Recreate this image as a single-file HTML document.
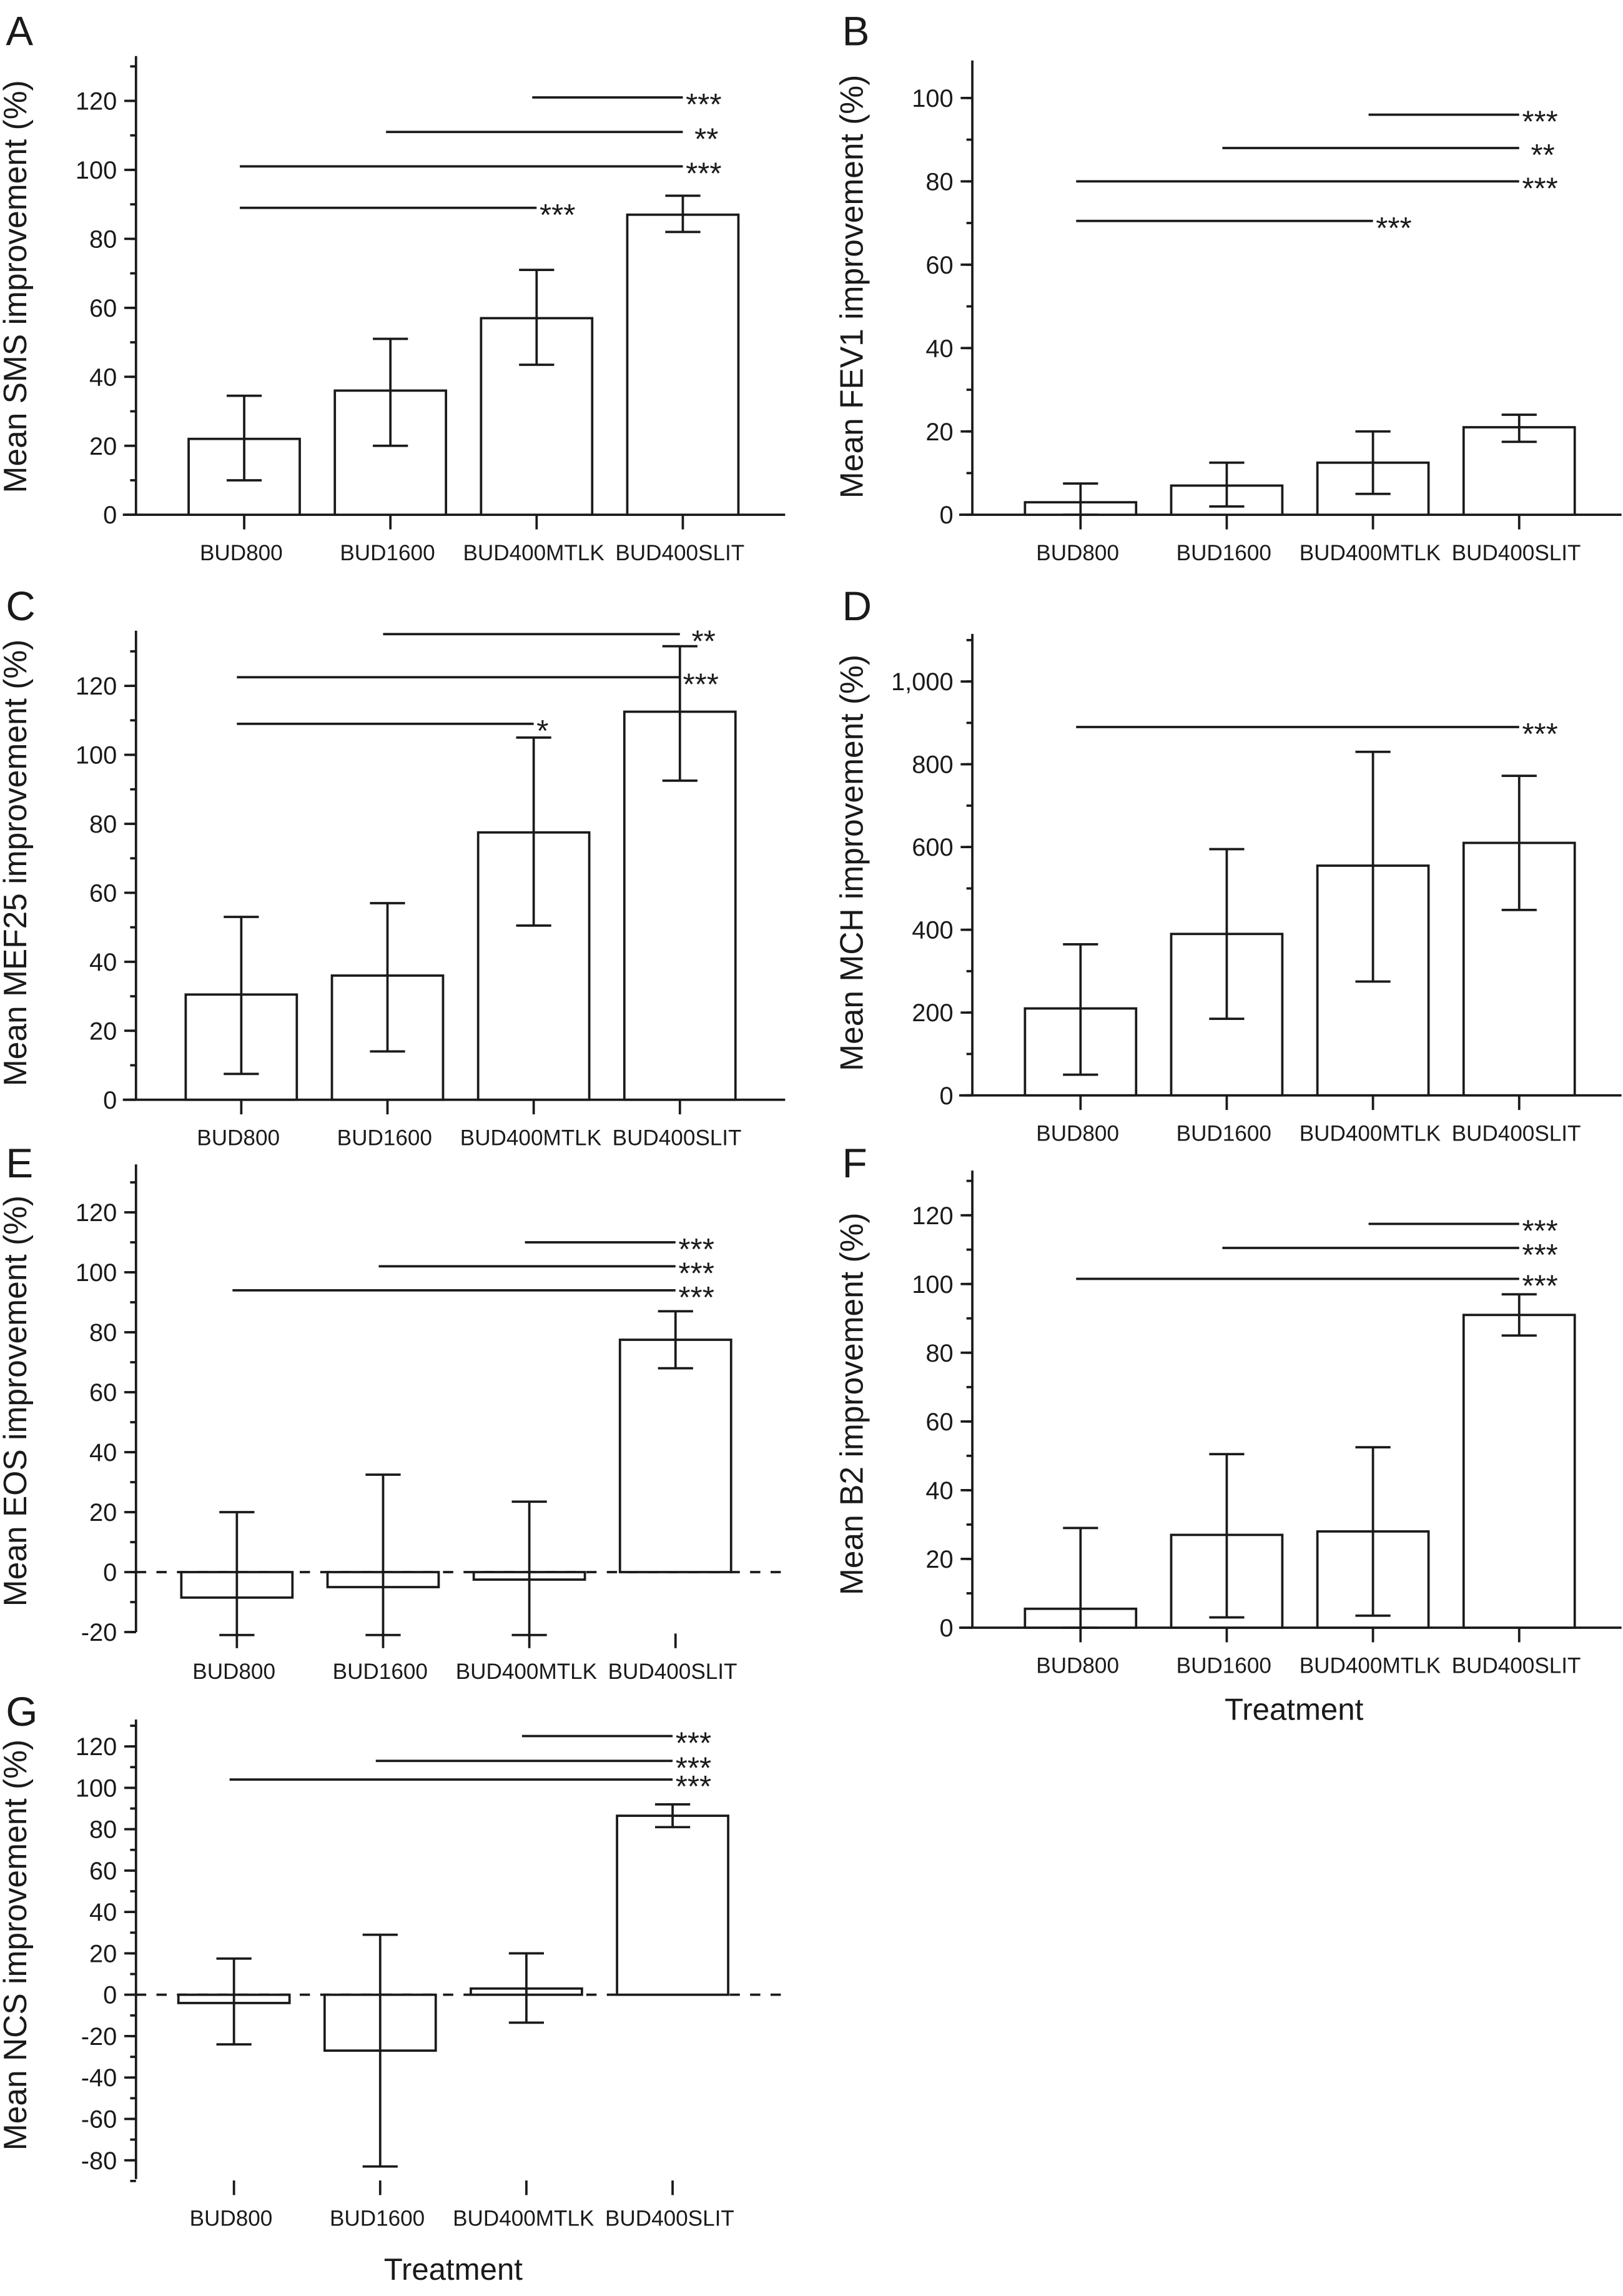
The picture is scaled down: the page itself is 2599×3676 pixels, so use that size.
<!DOCTYPE html>
<html><head><meta charset="utf-8"><style>
html,body{margin:0;padding:0;background:#fff;}
svg{display:block;}
text{font-family:"Liberation Sans Narrow","Liberation Sans",sans-serif;fill:#1a1a1a;}
</style></head><body>
<svg id="fig" xmlns="http://www.w3.org/2000/svg" width="2599" height="3676" viewBox="0 0 1110 1570"></svg>
<script>
const categories = ["BUD800","BUD1600","BUD400MTLK","BUD400SLIT"];
// A SMS
const smsMean=[22,36,57,87]; const smsLow=[10,20,43.5,82]; const smsHigh=[34.5,51,71,92.5];
const smsSigY=[121,111,101,89]; const smsSigFrom=[2,1,0,0]; const smsSigTo=[3,3,3,2]; const smsSigLab=["***","**","***","***"];
// B FEV1
const fevMean=[3,7,12.5,21]; const fevLow=[0,2,5,17.5]; const fevHigh=[7.5,12.5,20,24];
const fevSigY=[96,88,80,70.5]; const fevSigFrom=[2,1,0,0]; const fevSigTo=[3,3,3,2]; const fevSigLab=["***","**","***","***"];
// C MEF25
const mefMean=[30.5,36,77.5,112.5]; const mefLow=[7.5,14,50.5,92.5]; const mefHigh=[53,57,105,131.5];
const mefSigY=[135,122.5,109]; const mefSigFrom=[1,0,0]; const mefSigTo=[3,3,2]; const mefSigLab=["**","***","*"];
// D MCH
const mchMean=[210,390,555,610]; const mchLow=[50,185,275,448]; const mchHigh=[365,595,830,772];
const mchSigY=[890]; const mchSigFrom=[0]; const mchSigTo=[3]; const mchSigLab=["***"];
// E EOS
const eosMean=[-8.5,-5,-2.5,77.5]; const eosLow=[-21,-21,-21,68]; const eosHigh=[20,32.5,23.5,87];
const eosSigY=[110,102,94]; const eosSigFrom=[2,1,0]; const eosSigTo=[3,3,3]; const eosSigLab=["***","***","***"];
// F B2
const b2Mean=[5.5,27,28,91]; const b2Low=[0,3,3.5,85]; const b2High=[29,50.5,52.5,97];
const b2SigY=[117.5,110.5,101.5]; const b2SigFrom=[2,1,0]; const b2SigTo=[3,3,3]; const b2SigLab=["***","***","***"];
// G NCS
const ncsMean=[-4,-27,3,86.5]; const ncsLow=[-24,-83,-13.5,81]; const ncsHigh=[17.5,29,20,92];
const ncsSigY=[125,113,104]; const ncsSigFrom=[2,1,0]; const ncsSigTo=[3,3,3]; const ncsSigLab=["***","***","***"];
const tickA=[0,20,40,60,80,100,120];
const tickB=[0,20,40,60,80,100];
const tickD=[0,200,400,600,800,1000];
const tickE=[-20,0,20,40,60,80,100,120];
const tickG=[-80,-60,-40,-20,0,20,40,60,80,100,120];

const svg=document.getElementById('fig');
const NS="http://www.w3.org/2000/svg";
function el(tag,attrs,parent){const e=document.createElementNS(NS,tag);for(const k in attrs)e.setAttribute(k,attrs[k]);(parent||svg).appendChild(e);return e;}
function txt(s,x,y,size,anchor,parent,extra){const t=el('text',Object.assign({x:x,y:y,'font-size':size,'text-anchor':anchor||'start'},extra||{}),parent);t.textContent=s;return t;}

function panel(p){
  const g=el('g',{});
  
  
  const y=v=>p.y0-(v-0)*p.ppu;
  const cx=i=>p.ax+p.c0+i*100;
  const lw=1.6;
  const L=txt(p.letter,p.ax-89,p.letterY,28,'start',g,{style:'font-family:"Liberation Sans",sans-serif'});
  
  
  const yb=p.yBottom!==undefined?p.yBottom:p.y0;
  const ya=el('line',{x1:p.ax,y1:y(p.vTop),x2:p.ax,y2:yb,stroke:'#1a1a1a','stroke-width':lw},g);
  
  
  for(let v=p.minorStart;v<=p.vTop;v+=p.minor){
    const tk=el('line',{x1:p.ax-4,y1:y(v),x2:p.ax,y2:y(v),stroke:'#1a1a1a','stroke-width':lw},g);
    
    
  }
  p.ticks.forEach(v=>{
    const tk=el('line',{x1:p.ax-8,y1:y(v),x2:p.ax,y2:y(v),stroke:'#1a1a1a','stroke-width':lw},g);
    
    
    const lab=v>=1000?v.toLocaleString('en-US'):String(v);
    const t=txt(lab,p.ax-13,y(v)+6,17,'end',g);
    
    
  });
  if(p.dashed){
    const z=el('line',{x1:p.ax,y1:y(0),x2:p.ax+445,y2:y(0),stroke:'#1a1a1a','stroke-width':lw,'stroke-dasharray':'7,7'},g);
    
    
  } else {
    const xa=el('line',{x1:p.ax-9,y1:p.y0,x2:p.ax+444,y2:p.y0,stroke:'#1a1a1a','stroke-width':lw},g);
    
    
  }
  const tickTop=p.dashed?yb+1:p.y0;
  categories.forEach((c,i)=>{
    const tk=el('line',{x1:cx(i),y1:tickTop,x2:cx(i),y2:tickTop+10,stroke:'#1a1a1a','stroke-width':lw},g);
    
    
    const t=txt(c,cx(i)-2,tickTop+31,15,'middle',g);
    
    
  });
  p.mean.forEach((m,i)=>{
    const top=Math.min(y(m),y(0)),h=Math.abs(y(m)-y(0));
    const b=el('rect',{x:cx(i)-38,y:top,width:76,height:h,fill:'#fff',stroke:'#1a1a1a','stroke-width':lw},g);
    
    
    const e=el('path',{d:`M${cx(i)},${y(p.low[i])}V${y(p.high[i])}M${cx(i)-12},${y(p.low[i])}H${cx(i)+12}M${cx(i)-12},${y(p.high[i])}H${cx(i)+12}`,stroke:'#1a1a1a','stroke-width':lw,fill:'none'},g);
    
    
  });
  p.sigY.forEach((v,k)=>{
    const s=el('line',{x1:cx(p.sigFrom[k])-3,y1:y(v),x2:cx(p.sigTo[k]),y2:y(v),stroke:'#1a1a1a','stroke-width':lw},g);
    
    
    const t=txt(p.sigLab[k],cx(p.sigTo[k])+2+(p.sigLab[k].length===2?6:0),y(v)+12,21,'start',g,{style:'font-family:"Liberation Sans",sans-serif'});
    
    
  });
  const yl=txt(p.ylab,0,0,22,'middle',g,{transform:`translate(${p.ax-75},${p.ylabY}) rotate(-90)`,style:'font-family:"Liberation Sans",sans-serif'});
  
  
  if(p.xlab){
    const xl=txt('Treatment',p.xlabX,p.xlabY,21,'middle',g,{style:'font-family:"Liberation Sans",sans-serif'});
    
    
  }
}

panel({name:'panel-a-sms',letter:'A',letterY:31,ax:93,c0:74,y0:352,ppu:47.17/20,vTop:133,minor:10,minorStart:0,ticks:tickA,
  mean:smsMean,low:smsLow,high:smsHigh,sigY:smsSigY,sigFrom:smsSigFrom,sigTo:smsSigTo,sigLab:smsSigLab,ylab:'Mean SMS improvement (%)',ylabY:196});
panel({name:'panel-b-fev1',letter:'B',letterY:31,ax:665,c0:74,y0:352,ppu:57/20,vTop:109,minor:10,minorStart:0,ticks:tickB,
  mean:fevMean,low:fevLow,high:fevHigh,sigY:fevSigY,sigFrom:fevSigFrom,sigTo:fevSigTo,sigLab:fevSigLab,ylab:'Mean FEV1 improvement (%)',ylabY:196});
panel({name:'panel-c-mef25',letter:'C',letterY:424,ax:93,c0:72,y0:752,ppu:47.17/20,vTop:136,minor:10,minorStart:0,ticks:tickA,
  mean:mefMean,low:mefLow,high:mefHigh,sigY:mefSigY,sigFrom:mefSigFrom,sigTo:mefSigTo,sigLab:mefSigLab,ylab:'Mean MEF25 improvement (%)',ylabY:590});
panel({name:'panel-d-mch',letter:'D',letterY:424,ax:665,c0:74,y0:749,ppu:56.6/200,vTop:1115,minor:100,minorStart:0,ticks:tickD,
  mean:mchMean,low:mchLow,high:mchHigh,sigY:mchSigY,sigFrom:mchSigFrom,sigTo:mchSigTo,sigLab:mchSigLab,ylab:'Mean MCH improvement (%)',ylabY:590});
panel({name:'panel-e-eos',letter:'E',letterY:805,ax:93,c0:69,y0:1075,ppu:41/20,vTop:136,minor:10,minorStart:-20,ticks:tickE,yBottom:1116,dashed:true,
  mean:eosMean,low:eosLow,high:eosHigh,sigY:eosSigY,sigFrom:eosSigFrom,sigTo:eosSigTo,sigLab:eosSigLab,ylab:'Mean EOS improvement (%)',ylabY:958});
panel({name:'panel-f-b2',letter:'F',letterY:805,ax:665,c0:74,y0:1113,ppu:47/20,vTop:133,minor:10,minorStart:0,ticks:tickA,
  mean:b2Mean,low:b2Low,high:b2High,sigY:b2SigY,sigFrom:b2SigFrom,sigTo:b2SigTo,sigLab:b2SigLab,ylab:'Mean B2 improvement (%)',ylabY:960,xlab:true,xlabX:885,xlabY:1176});
panel({name:'panel-g-ncs',letter:'G',letterY:1180,ax:93,c0:67,y0:1364,ppu:28.3/20,vTop:133,minor:10,minorStart:-90,ticks:tickG,yBottom:1490,dashed:true,
  mean:ncsMean,low:ncsLow,high:ncsHigh,sigY:ncsSigY,sigFrom:ncsSigFrom,sigTo:ncsSigTo,sigLab:ncsSigLab,ylab:'Mean NCS improvement (%)',ylabY:1330,xlab:true,xlabX:310,xlabY:1559});
</script>
</body></html>
